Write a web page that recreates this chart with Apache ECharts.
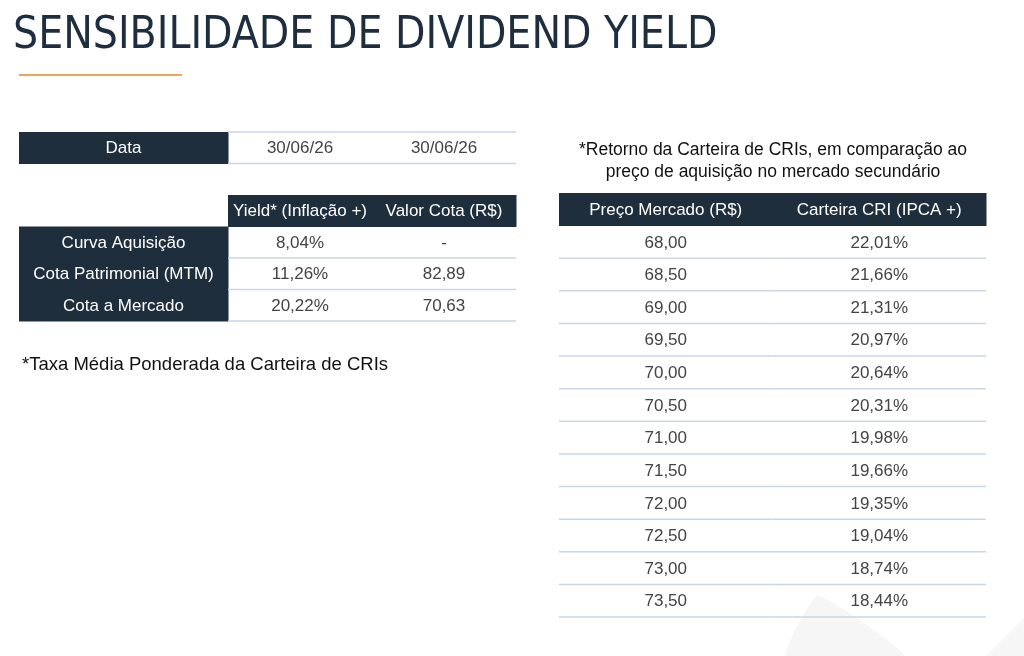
<!DOCTYPE html>
<html>
<head>
<meta charset="utf-8">
<script src="https://cdn.jsdelivr.net/npm/echarts@6/dist/echarts.min.js"></script>
<style>
html, body { margin: 0; padding: 0; background: #fff; }
#main { width: 1024px; height: 656px; }
</style>
</head>
<body>
<div id="main"></div>
<script>
// dados da lâmina
var titulo = 'SENSIBILIDADE DE DIVIDEND YIELD';
var datas = ['30/06/26', '30/06/26'];
var colunasYield = ['Yield* (Inflação +)', 'Valor Cota (R$)'];
var linhasYield = ['Curva Aquisição', 'Cota Patrimonial (MTM)', 'Cota a Mercado'];
var yieldInflacao = ['8,04%', '11,26%', '20,22%'];
var valorCota = ['-', '82,89', '70,63'];
var notaYield = '*Taxa Média Ponderada da Carteira de CRIs';
var notaCri = '*Retorno da Carteira de CRIs, em comparação ao\npreço de aquisição no mercado secundário';
var colunasCri = ['Preço Mercado (R$)', 'Carteira CRI (IPCA +)'];
var precoMercado = ['68,00', '68,50', '69,00', '69,50', '70,00', '70,50', '71,00', '71,50', '72,00', '72,50', '73,00', '73,50'];
var carteiraCri = ['22,01%', '21,66%', '21,31%', '20,97%', '20,64%', '20,31%', '19,98%', '19,66%', '19,35%', '19,04%', '18,74%', '18,44%'];

var escuro = '#1f2e3d';
var linha = '#c9d6e3';
var textoCor = '#444444';
var fonte = '"Liberation Sans", Arial, sans-serif';

function celula(col, row, text, tipo) {
    return { col: col, row: row, text: text, tipo: tipo };
}

// tabela 1: coluna de rótulos
var celulasRotulo = [celula(0, 0, 'Data', 'escuro')];
linhasYield.forEach(function (v, i) {
    celulasRotulo.push(celula(0, i + 3, v, 'escuro'));
});

// tabela 1: valores
var celulasValor = [];
datas.forEach(function (v, i) {
    celulasValor.push(celula(i, 0, v, 'caixa'));
});
colunasYield.forEach(function (v, i) {
    celulasValor.push(celula(i, 2, v, 'escuro'));
});
linhasYield.forEach(function (v, i) {
    celulasValor.push(celula(0, i + 3, yieldInflacao[i], 'linha'));
    celulasValor.push(celula(1, i + 3, valorCota[i], 'linha'));
});

// tabela 2: carteira CRI
var celulasCri = [];
colunasCri.forEach(function (v, i) {
    celulasCri.push(celula(i, 0, v, 'escuro'));
});
precoMercado.forEach(function (v, i) {
    celulasCri.push(celula(0, i + 1, v, 'linha'));
    celulasCri.push(celula(1, i + 1, carteiraCri[i], 'linha'));
});

function serieTabela(indice, cells) {
    return {
        type: 'custom',
        xAxisIndex: indice,
        yAxisIndex: indice,
        silent: true,
        data: cells.map(function (c) { return [c.col, c.row]; }),
        renderItem: function (params, api) {
            var c = cells[params.dataIndex];
            var p = api.coord([api.value(0), api.value(1)]);
            var s = api.size([1, 1]);
            var x0 = p[0] - s[0] / 2;
            var y0 = p[1] - s[1] / 2;
            var filhos = [];
            if (c.tipo === 'escuro') {
                filhos.push({
                    type: 'rect',
                    shape: { x: x0, y: y0, width: s[0] + 0.5, height: s[1] + 0.5 },
                    style: { fill: escuro }
                });
            } else {
                filhos.push({
                    type: 'line',
                    shape: { x1: x0, y1: y0 + s[1], x2: x0 + s[0], y2: y0 + s[1] },
                    style: { stroke: linha, lineWidth: 1.5 }
                });
                if (c.tipo === 'caixa') {
                    filhos.push({
                        type: 'line',
                        shape: { x1: x0, y1: y0, x2: x0 + s[0], y2: y0 },
                        style: { stroke: linha, lineWidth: 1.5 }
                    });
                }
            }
            filhos.push({
                type: 'text',
                style: {
                    text: c.text,
                    x: p[0],
                    y: p[1] + 1,
                    align: 'center',
                    verticalAlign: 'middle',
                    fill: c.tipo === 'escuro' ? '#ffffff' : textoCor,
                    fontSize: 17,
                    fontFamily: fonte
                }
            });
            return { type: 'group', children: filhos };
        }
    };
}

var linhasTabela1 = ['Data', '', 'cabecalho'].concat(linhasYield);
var linhasTabela2 = ['cabecalho'].concat(precoMercado);

var myChart = echarts.init(document.getElementById('main'));

var option = {
    animation: false,
    backgroundColor: '#ffffff',
    title: {
        text: titulo,
        left: 13,
        top: 15,
        padding: 0,
        textStyle: {
            fontFamily: '"DejaVu Sans Condensed", "Liberation Sans Narrow", sans-serif',
            fontSize: 44,
            fontWeight: 'normal',
            color: '#1e2e3e'
        }
    },
    grid: [
        { left: 19, top: 132, width: 209, height: 189 },
        { left: 228, top: 132, width: 288, height: 189 },
        { left: 559, top: 193, width: 427, height: 424 }
    ],
    xAxis: [
        { gridIndex: 0, type: 'category', data: ['rotulo'], show: false },
        { gridIndex: 1, type: 'category', data: colunasYield, show: false },
        { gridIndex: 2, type: 'category', data: colunasCri, show: false }
    ],
    yAxis: [
        { gridIndex: 0, type: 'category', data: linhasTabela1, inverse: true, show: false },
        { gridIndex: 1, type: 'category', data: linhasTabela1, inverse: true, show: false },
        { gridIndex: 2, type: 'category', data: linhasTabela2, inverse: true, show: false }
    ],
    graphic: [
        {
            type: 'polygon',
            z: -10,
            shape: { points: [[818, 596], [786, 656], [904, 656]], smooth: 0.15 },
            style: { fill: '#f6f6f7' }
        },
        {
            type: 'polygon',
            z: -10,
            shape: { points: [[1024, 618], [986, 656], [1024, 656]] },
            style: { fill: '#f6f6f7' }
        },
        {
            type: 'line',
            shape: { x1: 19, y1: 75, x2: 182, y2: 75 },
            style: { stroke: '#f0a556', lineWidth: 2 }
        },
        {
            type: 'text',
            style: {
                text: notaYield,
                x: 22,
                y: 365,
                verticalAlign: 'middle',
                fontSize: 18.5,
                fontFamily: fonte,
                fill: '#111111'
            }
        },
        {
            type: 'text',
            style: {
                text: notaCri,
                x: 773,
                y: 139,
                align: 'center',
                lineHeight: 22,
                fontSize: 17.5,
                fontFamily: fonte,
                fill: '#111111'
            }
        }
    ],
    series: [
        serieTabela(0, celulasRotulo),
        serieTabela(1, celulasValor),
        serieTabela(2, celulasCri)
    ]
};

myChart.setOption(option);
</script>
</body>
</html>
